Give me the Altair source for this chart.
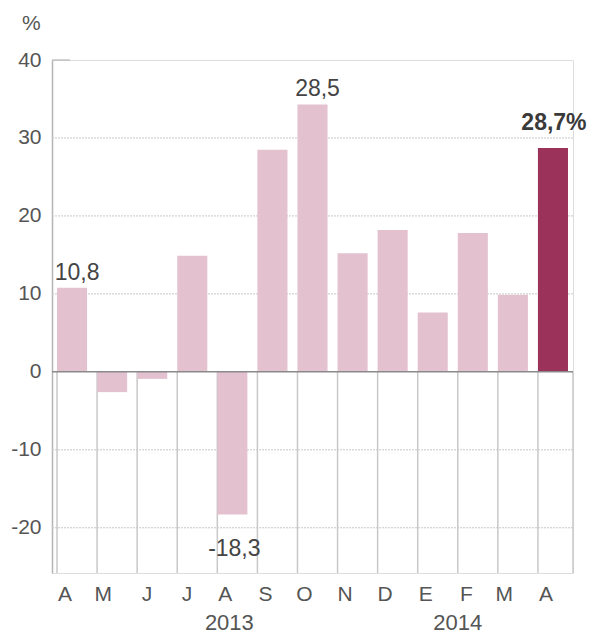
import altair as alt
import pandas as pd

keys = ["2013-04", "2013-05", "2013-06", "2013-07", "2013-08", "2013-09", "2013-10",
        "2013-11", "2013-12", "2014-01", "2014-02", "2014-03", "2014-04"]
letters = ["A", "M", "J", "J", "A", "S", "O", "N", "D", "E", "F", "M", "A"]
values = [10.8, -2.6, -0.9, 14.9, -18.3, 28.5, 34.3, 15.2, 18.2, 7.6, 17.8, 9.9, 28.7]
highlight = [False] * 12 + [True]

ann_keys = ["2013-04", "2013-10", "2013-08"]
ann_vals = [10.8, 34.3, -18.3]
ann_text = ["10,8", "28,5", "-18,3"]

grid_vals = [30, 20, 10, -10, -20]
tick_vals = [40, 30, 20, 10, 0, -10, -20]
YMIN, YMAX = -25.8, 40

df = pd.DataFrame({"key": keys, "letter": letters, "value": values, "hl": highlight})
ann = pd.DataFrame({"key": ann_keys, "value": ann_vals, "text": ann_text})
grid = pd.DataFrame({"v": grid_vals})

FONT = "Liberation Sans"
W, H = 521, 513
label_map = "{" + ",".join(f"'{k}':'{l}'" for k, l in zip(keys, letters)) + "}"

xscale = alt.Scale(domain=keys, paddingInner=0.25, paddingOuter=0.125)
yscale = alt.Scale(domain=[YMIN, YMAX], nice=False, zero=False)

x_enc = alt.X("key:N", scale=xscale, sort=keys,
              axis=alt.Axis(title=None, domain=False, ticks=False, labelAngle=0,
                            labelExpr=f"{label_map}[datum.value]",
                            labelFont=FONT, labelFontSize=21, labelColor="#555555",
                            labelPadding=21, grid=False))
y_enc = alt.Y("value:Q", scale=yscale,
              axis=alt.Axis(title=None, values=tick_vals, grid=False, ticks=False,
                            domain=True, domainColor="#b5b5b5", domainWidth=1.5,
                            labelExpr="datum.value + ''",
                            labelFont=FONT, labelFontSize=21, labelColor="#555555",
                            labelPadding=11))

gridlines = alt.Chart(grid).mark_rule(color="#c8c8c8", strokeDash=[2, 1], strokeWidth=1).encode(
    y=alt.Y("v:Q", scale=yscale), x=alt.value(0), x2=alt.value(W))

top_tick = alt.Chart(pd.DataFrame({"v": [40]})).mark_rule(color="#b5b5b5", strokeWidth=1.2).encode(
    y=alt.Y("v:Q", scale=yscale), x=alt.value(0), x2=alt.value(18))

vlines = alt.Chart(df).mark_rule(color="#c8c8c8", strokeWidth=1.5).encode(
    x=alt.X("key:N", scale=xscale, sort=keys, bandPosition=0),
    y=alt.datum(0), y2=alt.datum(YMIN))

right_line = alt.Chart(df.iloc[[12]]).mark_rule(color="#c8c8c8", strokeWidth=1.5).encode(
    x=alt.value(W), y=alt.datum(0), y2=alt.datum(YMIN))

bars = alt.Chart(df).mark_bar().encode(
    x=x_enc, y=y_enc, y2=alt.datum(0),
    color=alt.Color("hl:N", scale=alt.Scale(domain=[False, True], range=["#e3c1cf", "#9b325a"]),
                    legend=None))

zero_line = alt.Chart(pd.DataFrame({"v": [0]})).mark_rule(color="#8a8a8a", strokeWidth=1.5).encode(
    y=alt.Y("v:Q", scale=yscale), x=alt.value(0), x2=alt.value(W))

ann_pos = ann[ann["value"] > 0]
ann_neg = ann[ann["value"] < 0]

lab_pos = alt.Chart(ann_pos).mark_text(font=FONT, fontSize=23, color="#444444", dy=-8,
                                       dx=5, baseline="alphabetic").encode(
    x=alt.X("key:N", scale=xscale, sort=keys), y=alt.Y("value:Q", scale=yscale), text="text:N")

lab_neg = alt.Chart(ann_neg).mark_text(font=FONT, fontSize=23, color="#444444", dy=41,
                                       dx=2, baseline="alphabetic").encode(
    x=alt.X("key:N", scale=xscale, sort=keys), y=alt.Y("value:Q", scale=yscale), text="text:N")

last = pd.DataFrame({"key": ["2014-04"], "value": [28.7], "text": ["28,7%"]})
lab_last = alt.Chart(last).mark_text(font=FONT, fontSize=23, fontWeight="bold", color="#3a3a3a",
                                     dy=-18, dx=1, baseline="alphabetic").encode(
    x=alt.X("key:N", scale=xscale, sort=keys), y=alt.Y("value:Q", scale=yscale), text="text:N")

years = pd.DataFrame({"key": ["2013-08", "2014-02"], "text": ["2013", "2014"]})
year_2013 = alt.Chart(years.iloc[[0]]).mark_text(font=FONT, fontSize=22, color="#555555",
                                                 baseline="alphabetic", dx=-3).encode(
    x=alt.X("key:N", scale=xscale, sort=keys), y=alt.value(H + 57), text="text:N")
year_2014 = alt.Chart(years.iloc[[1]]).mark_text(font=FONT, fontSize=22, color="#555555",
                                                 baseline="alphabetic", dx=-15).encode(
    x=alt.X("key:N", scale=xscale, sort=keys), y=alt.value(H + 57), text="text:N")

pct = alt.Chart(pd.DataFrame({"t": ["%"]})).mark_text(font=FONT, fontSize=21, color="#555555",
                                                      align="left", baseline="top").encode(
    x=alt.value(-30), y=alt.value(-47), text="t:N")

chart = alt.layer(gridlines, top_tick, vlines, right_line, bars, zero_line,
                  lab_pos, lab_neg, lab_last, year_2013, year_2014, pct).properties(
    width=W, height=H,
    autosize=alt.AutoSizeParams(type="none"),
    padding={"left": 44, "top": 52, "right": 17, "bottom": 62},
).configure_view(strokeWidth=0, stroke="transparent").configure(background="white")

chart.save("out.html", embed_options={"renderer": "svg", "actions": False})
